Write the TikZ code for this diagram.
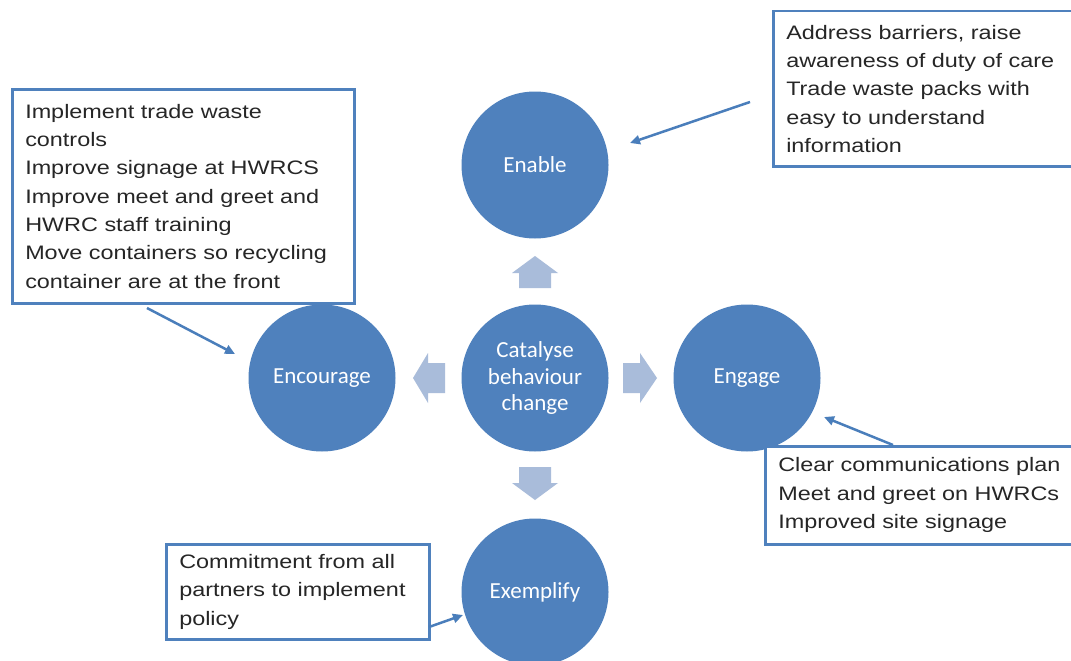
\documentclass[tikz,border=0pt]{standalone}
\usepackage{fontspec}
\usetikzlibrary{arrows.meta}
\newfontfamily\boxfont[FakeStretch=1.2]{Liberation Sans}
\newfontfamily\circfont{Carlito}
\definecolor{circblue}{HTML}{4F81BD}
\definecolor{lineblue}{HTML}{4A7EBB}
\definecolor{blockblue}{HTML}{A9BCDA}
\tikzset{
  circ/.style={circle, fill=circblue, draw=none, minimum size=147pt, inner sep=0pt,
    text=white, align=center, font=\circfont\fontsize{23}{26.5}\selectfont},
  tbox/.style={draw=circblue, line width=2.5pt, fill=white, anchor=north west,
    inner xsep=13pt, inner ysep=0pt, align=left, text=black!85,
    font=\boxfont\fontsize{19.5}{28.3}\selectfont},
  conn/.style={draw=lineblue, line width=2.5pt, -{Triangle[length=10pt,width=9pt]}},
  blockarrow/.style={fill=blockblue, draw=none}
}
\begin{document}
\begin{tikzpicture}[x=1pt,y=-1pt]
\useasboundingbox (0,0) rectangle (1071,661);
\fill[white] (0,0) rectangle (1071,661);

% circles
\node[circ] (enable) at (535,165) {Enable};
\node[circ] (catalyse) at (535,378) {Catalyse\\behaviour\\change};
\node[circ] (encourage) at (322,378) {Encourage};
\node[circ] (engage) at (747,378) {Engage};
\node[circ] (exemplify) at (535,592) {Exemplify};

% block arrows
\fill[blockblue] (535,256) -- (558,273) -- (551,273) -- (551,288) -- (519,288) -- (519,273) -- (512,273) -- cycle;
\fill[blockblue] (413,378) -- (428,353) -- (428,363) -- (445,363) -- (445,393) -- (428,393) -- (428,403) -- cycle;
\fill[blockblue] (657,378) -- (640,353) -- (640,363) -- (623,363) -- (623,393) -- (640,393) -- (640,403) -- cycle;
\fill[blockblue] (535,500) -- (558,483) -- (551,483) -- (551,467) -- (519,467) -- (519,483) -- (512,483) -- cycle;

% text boxes
\node[tbox, minimum width=342pt, minimum height=214pt, text width=316pt] (bl) at (11,88)
  {Implement trade waste\\controls\\Improve signage at HWRCS\\Improve meet and greet and\\HWRC staff training\\Move containers so recycling\\container are at the front};
\node[tbox, minimum width=310pt, minimum height=155pt, text width=284pt] (btr) at (772,10)
  {Address barriers, raise\\awareness of duty of care\\Trade waste packs with\\easy to understand\\information};
\node[tbox, minimum width=318pt, minimum height=98pt, text width=292pt] (bbr) at (764,445)
  {Clear communications plan\\Meet and greet on HWRCs\\Improved site signage};
\node[tbox, minimum width=263pt, minimum height=95pt, text width=237pt] (bbl) at (165,543)
  {Commitment from all\\partners to implement\\policy};

% connectors
\coordinate (c1s) at (750,102);
\coordinate (c1e) at (630,143);
\coordinate (c2s) at (147,308);
\coordinate (c2e) at (235,354);
\coordinate (c3s) at (893,445);
\coordinate (c3e) at (824,417);
\coordinate (c4s) at (429,627);
\coordinate (c4e) at (463,615);
\draw[conn] (c1s) -- (c1e);
\draw[conn] (c2s) -- (c2e);
\draw[conn] (c3s) -- (c3e);
\draw[conn] (c4s) -- (c4e);
\end{tikzpicture}
\end{document}
